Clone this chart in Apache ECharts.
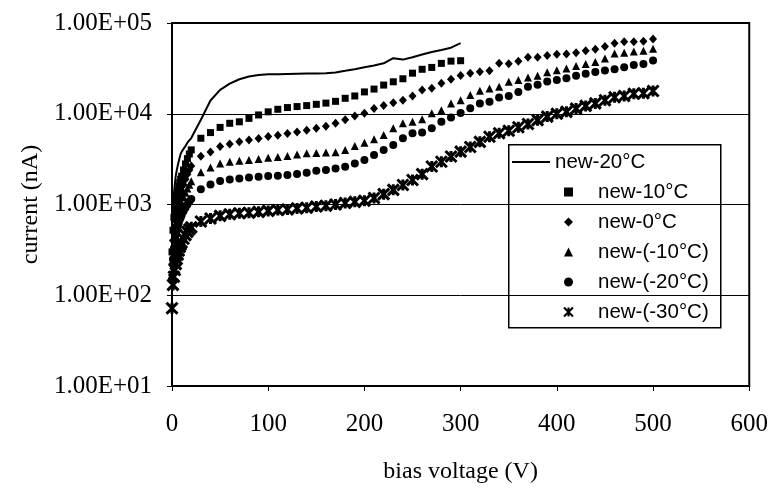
<!DOCTYPE html>
<html><head><meta charset="utf-8">
<script src="https://cdn.jsdelivr.net/npm/echarts@6/dist/echarts.min.js"></script>
<style>html,body{margin:0;padding:0;background:#fff}#c{width:771px;height:492px}</style>
</head><body><div id="c"></div>
<script>
// bias voltage (V) sample points
const voltage = [0,1,2,3,4,5,6,7,8,9,10,12,14,16,18,20,
  30,40,50,60,70,80,90,100,110,120,130,140,150,160,170,180,190,200,
  210,220,230,240,250,260,270,280,290,300,310,320,330,340,350,360,370,380,
  390,400,410,420,430,440,450,460,470,480,490,500];

const seriesNames = ['new-20°C','new-10°C','new-0°C','new-(-10°C)','new-(-20°C)','new-(-30°C)'];

// current (nA)
const cur20 = [500,900,1300,1700,2100,2400,2700,3000,3300,3600,3800,4100,4400,4800,5100,5400,
  8600,14000,18300,21500,24000,25700,26800,27200,27300,27500,27600,27700,27800,28000,28500,29700,31000,32500,
  34000,36000,41000,39500,42000,45000,48000,50500,53500,60000];
const cur10 = [300,520,720,900,1080,1250,1420,1580,1740,1900,2050,2400,2800,3200,3600,4000,
  5370,6200,7070,7850,8150,8900,9700,10500,11200,11700,12000,12300,12700,13100,13700,14800,15700,17400,
  18700,20700,22500,24300,28000,30900,32400,35900,38000,38400];
const cur0 = [220,400,550,680,800,920,1030,1130,1230,1330,1420,1650,1900,2150,2400,2650,
  3400,3800,4350,4650,4900,5150,5350,5600,5800,6050,6300,6600,6900,7300,7850,8600,9450,10100,
  11400,12300,13200,14100,15700,18300,19100,21700,24000,26400,28000,29000,29700,36000,35500,38000,42000,42000,
  43800,45200,45500,47000,49500,51300,55000,60000,62000,62000,63000,66500];
const curM10 = [180,320,430,530,620,700,780,850,920,990,1050,1200,1350,1500,1650,1800,
  2270,2560,2830,2950,3030,3100,3170,3270,3330,3430,3560,3670,3700,3730,3760,3990,4410,4780,
  5220,5820,6900,7850,8150,8680,10100,10900,13000,14100,16100,17900,19000,19900,22500,23500,25100,26300,
  28700,30200,31500,33600,35300,37200,40500,46000,47000,48500,49500,52000];
const curM20 = [150,250,330,400,460,520,580,630,680,720,760,840,920,1000,1080,1150,
  1470,1660,1810,1890,1940,1990,2020,2060,2080,2110,2170,2240,2360,2400,2500,2610,2830,3100,
  3510,3990,4520,5370,6100,6200,6900,8150,9100,10200,11500,13000,13600,15100,15700,17400,19900,20900,
  22600,23500,24600,26300,27600,28900,30000,30900,32600,34500,35400,38500];
const curM30 = [72,130,160,190,220,250,280,310,340,360,380,420,460,500,530,560,
  650,700,750,780,800,810,830,850,870,880,905,920,950,970,1000,1040,1070,1100,
  1180,1300,1450,1640,1860,2160,2620,2960,3380,3820,4300,4900,5570,6100,6500,7100,7700,8500,
  9300,10000,10500,11400,12200,13000,14100,15200,15700,16600,16800,17800];

const yTickValues = [10,100,1000,10000,100000];
const yTickLabels = ['1.00E+01','1.00E+02','1.00E+03','1.00E+04','1.00E+05'];

function pairs(vals){ return vals.map((v,i)=>[voltage[i], v]); }

const starPath = 'path://M0,0L10,10M10,0L0,10M5,0L5,10';
const serif = 'Liberation Serif';
const sans = 'Liberation Sans';

const chart = echarts.init(document.getElementById('c'), null, {renderer:'canvas'});
const markerDefs = [
  {symbol:'rect', size:7},
  {symbol:'diamond', size:[8,9]},
  {symbol:'triangle', size:8},
  {symbol:'circle', size:8},
  {symbol:starPath, size:11}
];
const scatterVals = [cur10, cur0, curM10, curM20, curM30];

const series = [{
  name: seriesNames[0], type:'line', data: pairs(cur20), symbol:'none', showSymbol:false,
  lineStyle:{color:'#000', width:2}, itemStyle:{color:'#000'}, z:3
}];
scatterVals.forEach((vals, k)=>{
  const d = markerDefs[k];
  const isStar = k === 4;
  series.push({
    name: seriesNames[k+1], type:'scatter', data: pairs(vals),
    symbol: d.symbol, symbolSize: d.size,
    itemStyle: isStar ? {color:'#000', borderColor:'#000', borderWidth:3, opacity:1}
                      : {color:'#000', opacity:1},
    z: 3 + k
  });
});

const legendText = {color:'#000', fontFamily:sans, fontSize:20.5, lineHeight:22};

const option = {
  animation:false,
  backgroundColor:'#fff',
  grid:{left:172, right:21, top:23, bottom:106, show:true, borderColor:'#000', borderWidth:2, backgroundColor:'transparent'},
  xAxis:{
    type:'value', min:0, max:600, interval:100,
    axisLine:{show:true, onZero:false, lineStyle:{color:'#000', width:2}},
    axisTick:{show:true, length:5, lineStyle:{color:'#000', width:1}},
    splitLine:{show:false},
    axisLabel:{color:'#000', fontFamily:serif, fontSize:25, margin:26},
    name:'bias voltage (V)', nameLocation:'middle', nameGap:74,
    nameTextStyle:{color:'#000', fontFamily:serif, fontSize:24}
  },
  yAxis:{
    type:'log', logBase:10, min:10, max:100000,
    axisLine:{show:true, onZero:false, lineStyle:{color:'#000', width:2}},
    axisTick:{show:true, length:5, lineStyle:{color:'#000', width:1}},
    minorTick:{show:false},
    splitLine:{show:true, lineStyle:{color:'#000', width:1}},
    axisLabel:{color:'#000', fontFamily:serif, fontSize:25, margin:20,
      formatter:(v)=>{ const i = yTickValues.findIndex(t=>Math.abs(t-v)/t<1e-6); return i>=0 ? yTickLabels[i] : ''; }},
    name:'current (nA)', nameLocation:'middle', nameGap:128, nameRotate:90,
    nameTextStyle:{color:'#000', fontFamily:serif, fontSize:24}
  },
  legend:[{
    data:[{name:seriesNames[0], icon:'rect', itemStyle:{color:'#000'}}],
    orient:'vertical', left:512, top:151, padding:0,
    itemWidth:38, itemHeight:2, itemGap:8,
    textStyle:legendText,
    selectedMode:false
  },{
    data:seriesNames.slice(1).map(n=>({name:n})), orient:'vertical', left:563, top:181, padding:0,
    itemWidth:9, itemHeight:9, itemGap:8,
    textStyle:Object.assign({}, legendText, {padding:[0,0,0,20]}),
    selectedMode:false
  }],
  graphic:[{
    type:'rect', left:508, top:144, z:0,
    shape:{width:212, height:183},
    style:{fill:'#fff', stroke:'#000', lineWidth:1.5}
  }],
  series: series
};
chart.setOption(option);
</script>
</body></html>
